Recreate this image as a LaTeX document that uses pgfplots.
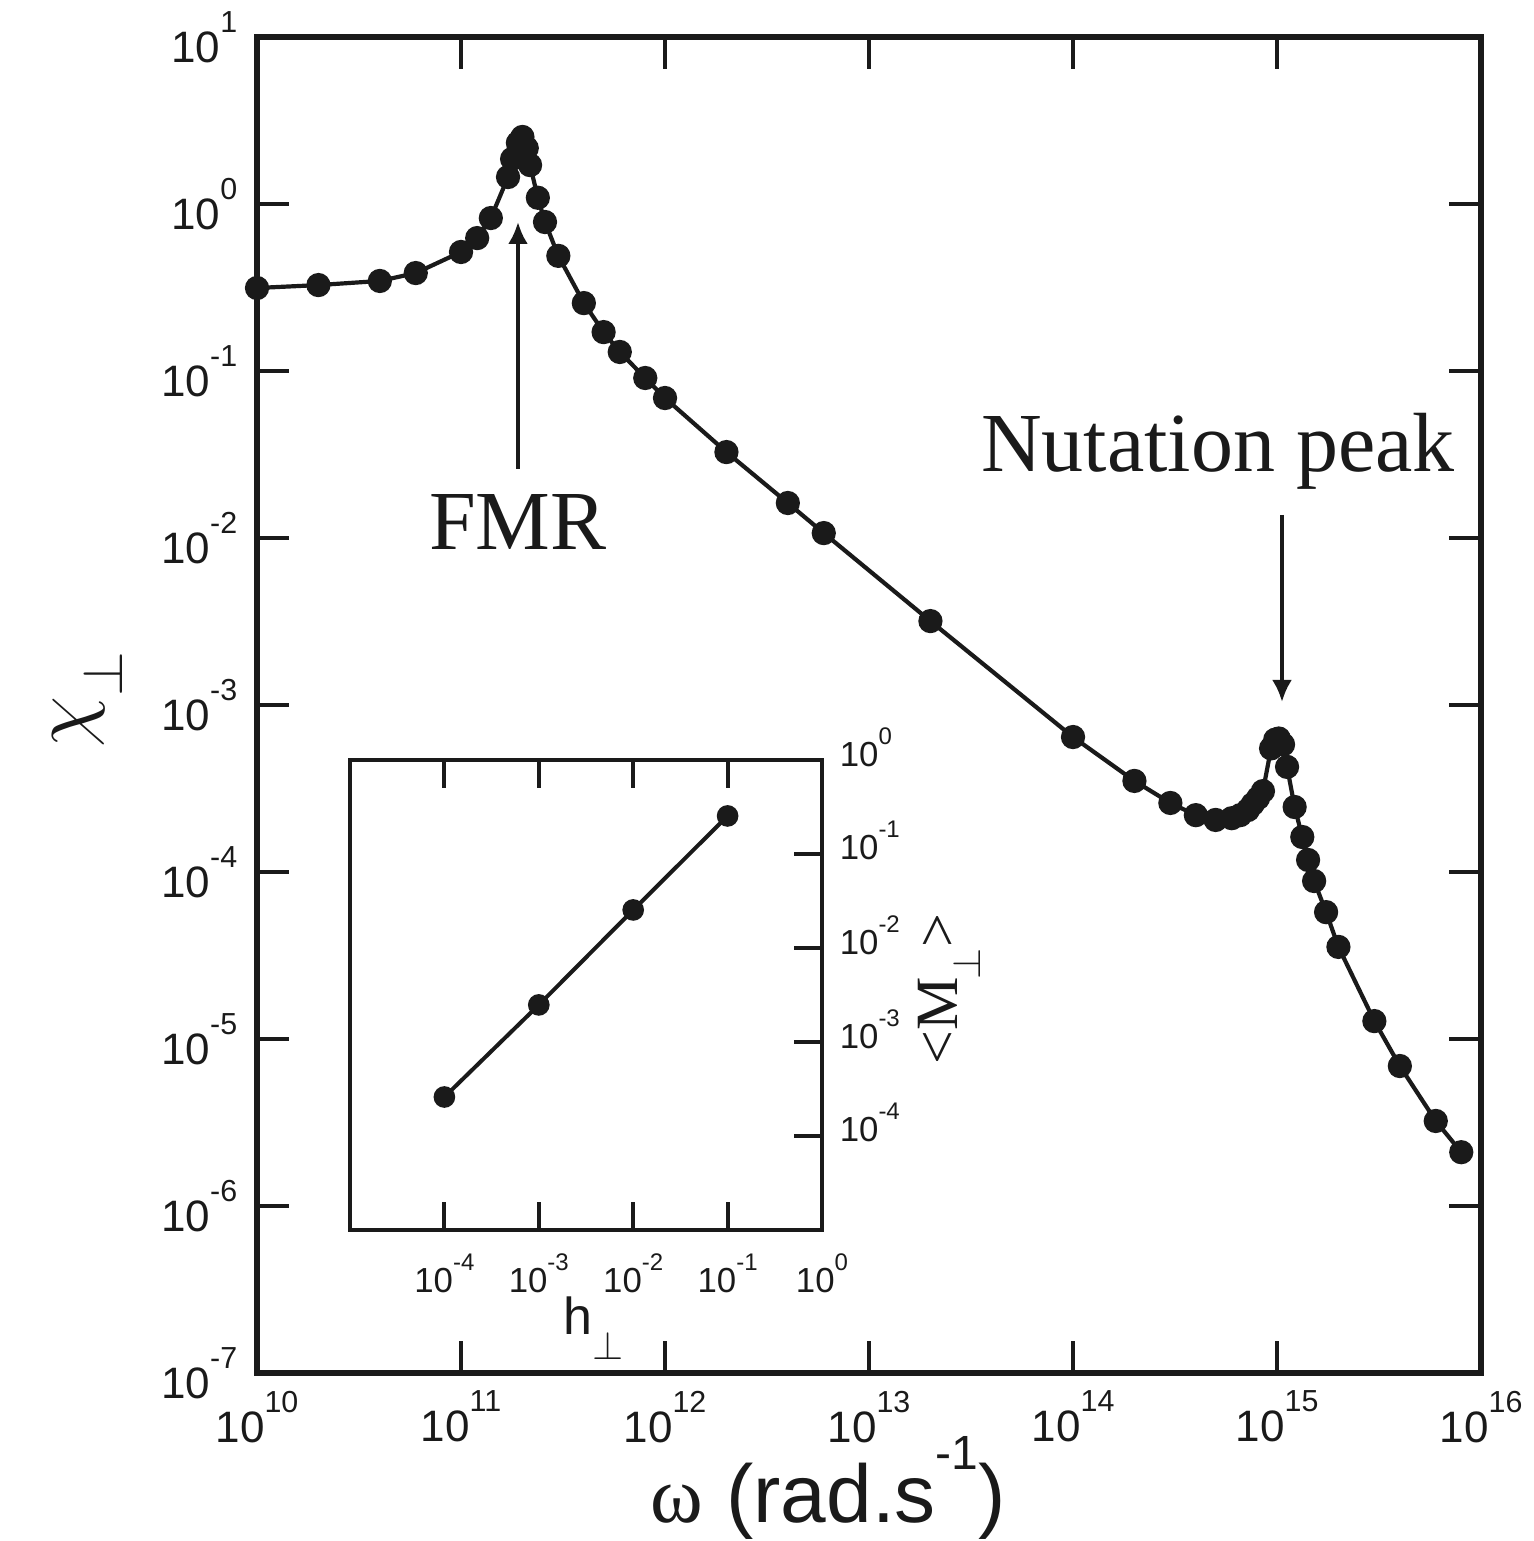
\documentclass[border=0pt]{standalone}
\usepackage{pgfplots}
\pgfplotsset{compat=1.18}
\usepackage{fontspec}
\setmainfont{Liberation Sans}
\newfontfamily\serif{Liberation Serif}
\usetikzlibrary{arrows.meta}
\definecolor{ink}{RGB}{26,26,26}
\newcommand{\mt}[1]{10\raisebox{7.5pt}{\fontsize{7.6}{8}\selectfont #1}}
\newcommand{\il}[1]{10\raisebox{5.5pt}{\fontsize{6}{6}\selectfont #1}}
\begin{document}
\begin{tikzpicture}
\path[use as bounding box] (-64.25pt,-42pt) rectangle (319pt,343.25pt);
\begin{axis}[
  at={(0,0)}, anchor=south west, scale only axis,
  width=306pt, height=334pt,
  xmode=log, ymode=log,
  xmin=1e10, xmax=1e16, ymin=1e-7, ymax=10,
  xtick={1e10,1e11,1e12,1e13,1e14,1e15,1e16},
  xticklabels={\mt{10},\mt{11},\mt{12},\mt{13},\mt{14},\mt{15},\mt{16}},
  ytick={1e-7,1e-6,1e-5,1e-4,1e-3,1e-2,1e-1,1,10},
  yticklabels={\mt{-7},\mt{-6},\mt{-5},\mt{-4},\mt{-3},\mt{-2},\mt{-1},\mt{0},\mt{1}},
  xminorticks=false, yminorticks=false,
  tick align=inside, major tick length=8pt,
  tick style={line width=1pt, color=ink},
  axis line style={line width=1.3pt, color=ink},
  xticklabel style={font=\fontsize{11}{13}\selectfont, text=ink, inner sep=0pt, anchor=north, yshift=-4.25pt},
  yticklabel style={font=\fontsize{11}{13}\selectfont, text=ink, inner sep=0pt, anchor=east, xshift=-4.75pt},
  clip=false,
]
\addplot[line width=1.05pt, color=ink, mark=*, mark size=2.5pt, mark options={solid, fill=ink}] coordinates {
(1e10,0.314) (2e10,0.327) (4e10,0.346) (6e10,0.386) (1e11,0.516)
(1.2e11,0.625) (1.4e11,0.824) (1.7e11,1.45) (1.78e11,1.86) (1.9e11,2.32)
(2.0e11,2.52) (2.1e11,2.16) (2.18e11,1.71) (2.38e11,1.09) (2.58e11,0.78)
(3e11,0.489) (4e11,0.255) (5e11,0.171) (6e11,0.130) (8e11,0.0908)
(1e12,0.0689) (2e12,0.0327) (4e12,0.0162) (6e12,0.0107) (2e13,0.00318)
(1e14,6.43e-4) (2e14,3.51e-4) (3e14,2.59e-4) (4e14,2.19e-4) (5e14,2.05e-4)
(6e14,2.10e-4) (6.6e14,2.19e-4) (7.2e14,2.35e-4) (7.6e14,2.55e-4) (8.07e14,2.77e-4)
(8.53e14,3.05e-4) (9.35e14,5.5e-4) (9.8e14,6.2e-4) (1.02e15,6.3e-4) (1.07e15,5.8e-4)
(1.12e15,4.26e-4) (1.22e15,2.45e-4) (1.33e15,1.62e-4) (1.42e15,1.18e-4) (1.52e15,8.83e-5)
(1.74e15,5.75e-5) (2e15,3.56e-5) (3e15,1.28e-5) (4e15,6.89e-6) (6e15,3.23e-6)
(8e15,2.10e-6)
};
\end{axis}
\begin{axis}[
  at={(23.25pt,35.75pt)}, anchor=south west, scale only axis,
  width=118pt, height=117.5pt,
  xmode=log, ymode=log,
  xmin=1e-5, xmax=1, ymin=1e-5, ymax=1,
  xtick={1e-4,1e-3,1e-2,1e-1,1},
  xticklabels={\il{-4},\il{-3},\il{-2},\il{-1},\il{0}},
  ytick={1e-4,1e-3,1e-2,1e-1,1},
  yticklabels={\il{-4},\il{-3},\il{-2},\il{-1},\il{0}},
  xtick pos=both, xticklabel pos=lower,
  ytick pos=right, yticklabel pos=right,
  xminorticks=false, yminorticks=false,
  tick align=inside, major tick length=7pt,
  tick style={line width=1pt, color=ink},
  axis line style={line width=1.15pt, color=ink},
  xticklabel style={font=\fontsize{8.7}{10}\selectfont, text=ink, inner sep=0pt, anchor=north, yshift=-5.75pt},
  yticklabel style={font=\fontsize{8.7}{10}\selectfont, text=ink, inner sep=0pt, anchor=west, xshift=4.25pt, yshift=3.3pt},
  clip=false,
]
\addplot[line width=1pt, color=ink, mark=*, mark size=2.2pt, mark options={solid, fill=ink}] coordinates {
(1e-4,2.6e-4) (1e-3,2.48e-3) (1e-2,2.54e-2) (1e-1,0.254)
};
\end{axis}
% annotations
\draw[line width=1pt, color=ink, -{Latex[length=5.5pt,width=5pt]}] (65.25pt,226pt) -- (65.25pt,287.75pt);
\draw[line width=1pt, color=ink, -{Latex[length=5.5pt,width=5pt]}] (256.25pt,214.5pt) -- (256.25pt,167.75pt);
\node[anchor=base, inner sep=0pt, text=ink] at (65.25pt,205.75pt) {\fontsize{21}{25}\selectfont\serif FMR};
\node[anchor=base, inner sep=0pt, text=ink] at (240.25pt,225.25pt) {\fontsize{21}{25}\selectfont\serif Nutation peak};
% axis labels
\node[anchor=base west, inner sep=0pt, text=ink] at (98.25pt,-37.25pt) {\fontsize{20.5}{24}\selectfont{\serif\fontsize{20}{24}\selectfont ω} (rad.s\raisebox{13pt}{\fontsize{12}{12}\selectfont -1})};
\node[rotate=90, anchor=base west, inner sep=0pt, text=ink] at (-42.25pt,156.25pt) {\fontsize{22}{26}\selectfont$\chi$\raisebox{-8.5pt}{\fontsize{15}{15}\selectfont$\perp$}};
\node[anchor=base west, inner sep=0pt, text=ink] at (76.5pt,9.5pt) {\fontsize{13}{15}\selectfont h\raisebox{-6.25pt}{\fontsize{10}{10}\selectfont$\perp$}};
\node[rotate=90, anchor=base west, inner sep=0pt, text=ink] at (175pt,77pt) {\fontsize{15}{18}\selectfont\serif <M\kern-0.5pt\raisebox{-5.75pt}{\fontsize{10}{10}\selectfont$\perp$}>};
\end{tikzpicture}
\end{document}
